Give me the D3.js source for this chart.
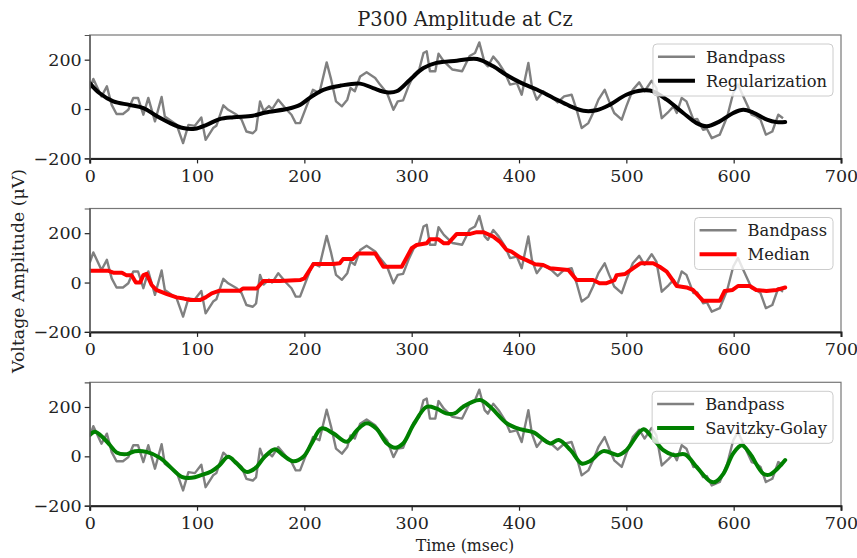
<!DOCTYPE html>
<html lang="en">
<head>
    <meta charset="utf-8" />
    <title>P300 Amplitude at Cz</title>
    <script src="https://d3js.org/d3.v7.min.js"></script>
    <style>
        body { margin: 0; background: #fff; }
        text { font-family: "DejaVu Serif", serif; }
    </style>
</head>
<body>
<script>
    var w = 857;
    var h = 558;

    // Bandpass signal (same in all three panels)
    var bpTime = [0, 3.4, 11, 16, 20.5, 25, 31, 36, 40.6, 45, 50, 54.6, 60.8, 67, 70, 75, 81, 87, 92, 98,
        104, 108, 115, 118, 124.5, 129, 137, 141.5, 146, 152, 155, 158.7, 162, 167, 170, 175.7, 183.5, 188, 192, 196,
        202, 208, 214, 220.8, 225, 229.5, 235, 240, 243, 247, 252, 258, 266, 270.5, 277, 283, 287, 292, 297, 302,
        307, 311, 314, 317, 322, 325, 330, 338, 347, 354, 359, 363, 368, 371, 376, 381, 387, 391.6, 398, 402.5,
        408.7, 412, 416.5, 422.5, 430, 436, 442, 449, 453.7, 458.4, 464.6, 469, 474, 479.8, 484, 488.7, 495.7, 500,
        506, 512, 517, 523.6, 528, 533, 539.5, 544, 547, 551.6, 556, 562.5, 566, 571.5, 575, 579.6, 587, 594,
        599.6, 604, 609, 616.8, 621, 625, 630, 636, 641.6, 646];
    var bpVolt = [80, 122, 51, 92, 17, -20, -20, -3, 45, 45, -23, 45, -50, 49, -30, -45, -64, -138, -64, -68,
        -34, -125, -77, -68, 15, -3, -23, -43, -91, -98, -85, 31, -8, 12, 0, 38, -3, -23, -57, -57,
        11, 78, 65, 189, 119, 31, 11, 38, 85, 72, 132, 149, 126, 99, 65, -3, 31, 35, 92, 139,
        160, 227, 234, 153, 153, 224, 193, 160, 153, 215, 227, 270, 187, 173, 213, 187, 146, 99, 105, 58,
        187, 92, 38, 72, 51, 27, 51, 58, -3, -77, -57, -16, 38, 78, 31, -16, -43, 11,
        78, 108, 72, 115, 85, -37, -10, 11, -16, 45, 31, -43, -40, -84, -80, -118, -104, -30,
        65, 99, 51, -23, -30, -43, -104, -91, -23, -37];

    // Regularization
    var regTime = [0, 9, 22, 37, 50, 62, 75, 87, 98, 109, 121, 134, 152, 164, 183.5, 196, 205, 217.7, 234, 252,
        264, 276.7, 286, 298.4, 311, 323, 342, 361, 376, 388, 401, 417, 432, 447, 460, 472, 484.4, 500, 515.8, 525,
        537.6, 553, 565.5, 575, 587, 599.6, 609, 618, 631, 640, 648];
    var regVolt = [105, 65, 31, 17, 4, -27, -57, -77, -80, -64, -41, -33, -27, -14, 0, 17, 45, 78, 95, 103,
        85, 68, 72, 119, 166, 187, 196, 203, 173, 139, 108, 78, 45, 13, -7, -5, 17, 58, 76, 72,
        38, -16, -57, -70, -50, -16, -3, -14, -43, -53, -53];

    // Median
    var medTime = [0, 17, 22, 30, 34, 39, 43, 47, 50, 53, 57.7, 62, 72, 81, 87.6, 93.8, 103, 108, 113.7, 121,
        140, 143, 155.6, 161.7, 177, 196, 200, 208.5, 227, 233, 236, 245, 250, 266, 273.6, 290.7, 300, 304.6, 314, 317,
        325, 330, 334, 342, 354.6, 360.6, 367, 376, 382, 388.5, 393, 401, 407, 415, 422.5, 429, 446, 453.7, 469, 475,
        481, 489, 491, 499, 506.5, 513, 525, 531, 537.6, 547, 556, 562, 571.6, 587, 591.6, 599, 604, 615, 621, 630.5,
        640, 648];
    var medVolt = [48, 48, 40, 40, 30, 30, 0, 0, 30, 35, -10, -30, -47, -60, -65, -71, -71, -60, -44, -33,
        -33, -24, -24, 6, 6, 10, 17, 75, 75, 78, 95, 95, 118, 118, 64, 64, 139, 152, 159, 175,
        175, 159, 159, 197, 197, 204, 204, 186, 166, 132, 125, 102, 91, 74, 71, 58, 51, 10, 10, -3,
        -3, 10, 30, 35, 58, 78, 78, 64, 44, -14, -20, -30, -74, -74, -34, -30, -14, -14, -30, -34,
        -30, -20];

    // Savitzky-Golay
    var sgTime = [0, 5, 13, 19, 25, 34.5, 42, 53, 65.5, 75, 85.7, 95, 104, 113.6, 121, 129, 137, 146, 154, 163,
        172.6, 180, 189.7, 199, 206.8, 216, 227, 239.5, 249, 258, 267, 277, 284.5, 292, 301.5, 314, 323, 332, 340, 348,
        363.6, 373, 388.5, 401, 413.6, 429, 437, 448, 458.4, 466, 478.5, 492.5, 500, 515.8, 523.6, 534.5, 544, 554.6, 565.4, 578,
        582.7, 590.5, 599.6, 607.5, 615, 627.5, 633.5, 641, 648];
    var sgVolt = [86, 100, 73, 45, 16, 9, 21, 18, -6, -43, -83, -87, -76, -60, -36, -2, -29, -63, -49, -2,
        29, 5, -20, -2, 52, 113, 93, 59, 106, 134, 113, 52, 35, 52, 127, 201, 194, 174, 174, 201,
        228, 201, 134, 110, 97, 52, 66, 25, -29, -20, 21, 5, 25, 110, 79, 25, 5, 8, -43, -101,
        -104, -70, 12, 45, 12, -70, -74, -49, -15];

    var xTicks = [0, 100, 200, 300, 400, 500, 600, 700];
    var yTicks = [-200, 0, 200];

    var panels = [
        { name: "Regularization", time: regTime, volt: regVolt, color: "#000000", curve: d3.curveCatmullRom },
        { name: "Median", time: medTime, volt: medVolt, color: "#ff0000", curve: d3.curveLinear },
        { name: "Savitzky-Golay", time: sgTime, volt: sgVolt, color: "#008000", curve: d3.curveCatmullRom }
    ];

    var left = 89.7, right = 841;
    var tops = [35, 208.5, 382.3];
    var ph = 123.4;
    var tickFont = "17.5px";
    var legFont = "16.3px";

    var svg = d3.select("body")
        .append("svg")
        .attr("width", w)
        .attr("height", h);

    var xScale = d3.scaleLinear().domain([0, 700]).range([left, right]);

    function zip(t, v) {
        return t.map(function(d, i) { return [d, v[i]]; });
    }

    panels.forEach(function(p, i) {
        var top = tops[i];
        var yScale = d3.scaleLinear().domain([-200, 300]).range([top + ph, top]);
        var g = svg.append("g");

        var clipId = "clip" + i;
        svg.append("clipPath").attr("id", clipId)
            .append("rect").attr("x", left).attr("y", top).attr("width", right - left).attr("height", ph);

        var line = d3.line()
            .x(function(d) { return xScale(d[0]); })
            .y(function(d) { return yScale(d[1]); });

        g.append("path")
            .datum(zip(bpTime, bpVolt))
            .attr("clip-path", "url(#" + clipId + ")")
            .attr("fill", "none")
            .attr("stroke", "#808080")
            .attr("stroke-width", 2.4)
            .attr("stroke-linejoin", "round")
            .attr("d", line);

        g.append("path")
            .datum(zip(p.time, p.volt))
            .attr("clip-path", "url(#" + clipId + ")")
            .attr("fill", "none")
            .attr("stroke", p.color)
            .attr("stroke-width", 4)
            .attr("stroke-linejoin", "round")
            .attr("stroke-linecap", "round")
            .attr("d", line.curve(p.curve));

        // frame
        g.append("rect")
            .attr("x", left).attr("y", top)
            .attr("width", right - left).attr("height", ph)
            .attr("fill", "none")
            .attr("stroke", "#777")
            .attr("stroke-width", 1.2);

        var xAxis = d3.axisBottom(xScale).tickValues(xTicks).tickSize(5).tickPadding(6);
        var gx = g.append("g").attr("transform", "translate(0," + (top + ph) + ")").call(xAxis);
        gx.select(".domain").attr("stroke", "#222").attr("stroke-width", 2);
        gx.selectAll(".tick line").attr("stroke", "#222").attr("stroke-width", 1.2);
        gx.selectAll("text").attr("font-size", tickFont).attr("fill", "#222")
            .attr("font-family", "DejaVu Serif, serif");

        var yAxis = d3.axisLeft(yScale).tickValues(yTicks).tickSize(5).tickPadding(3)
            .tickFormat(function(d) { return d < 0 ? "\u2212" + Math.abs(d) : d; });
        var gy = g.append("g").attr("transform", "translate(" + left + ",0)").call(yAxis);
        gy.select(".domain").attr("stroke", "#555").attr("stroke-width", 1.2);
        gy.selectAll(".tick line").attr("stroke", "#222").attr("stroke-width", 1.2);
        gy.selectAll("text").attr("font-size", tickFont).attr("fill", "#222")
            .attr("font-family", "DejaVu Serif, serif");

        // legend
        var lg = g.append("g");
        var box = lg.append("rect")
            .attr("fill", "#fff").attr("fill-opacity", 0.8)
            .attr("stroke", "#ccc").attr("stroke-width", 1)
            .attr("rx", 4);
        var entries = [
            { label: "Bandpass", color: "#808080", width: 2.4 },
            { label: p.name, color: p.color, width: 4 }
        ];
        var maxLen = 0;
        var texts = entries.map(function(e, k) {
            var t = lg.append("text")
                .attr("y", top + 21.7 + k * 24 + 5.8)
                .attr("font-size", legFont)
                .attr("fill", "#222")
                .text(e.label);
            maxLen = Math.max(maxLen, t.node().getComputedTextLength());
            return t;
        });
        var bw = 53 + maxLen + 6;
        var bx = right - 8 - bw;
        box.attr("x", bx).attr("y", top + 9).attr("width", bw).attr("height", 52);
        entries.forEach(function(e, k) {
            lg.append("line")
                .attr("x1", bx + 5).attr("x2", bx + 42)
                .attr("y1", top + 21.7 + k * 24).attr("y2", top + 21.7 + k * 24)
                .attr("stroke", e.color).attr("stroke-width", e.width);
            texts[k].attr("x", bx + 53);
        });
    });

    // title and axis labels
    svg.append("text")
        .attr("x", 465).attr("y", 26)
        .attr("text-anchor", "middle")
        .attr("font-size", "19.5px")
        .attr("fill", "#222")
        .text("P300 Amplitude at Cz");

    svg.append("text")
        .attr("x", 465).attr("y", 551)
        .attr("text-anchor", "middle")
        .attr("font-size", "15.8px")
        .attr("fill", "#222")
        .text("Time (msec)");

    svg.append("text")
        .attr("transform", "translate(24,271) rotate(-90)")
        .attr("text-anchor", "middle")
        .attr("font-size", "17.3px")
        .attr("fill", "#222")
        .text("Voltage Amplitude (\u03bcV)");
</script>
</body>
</html>
